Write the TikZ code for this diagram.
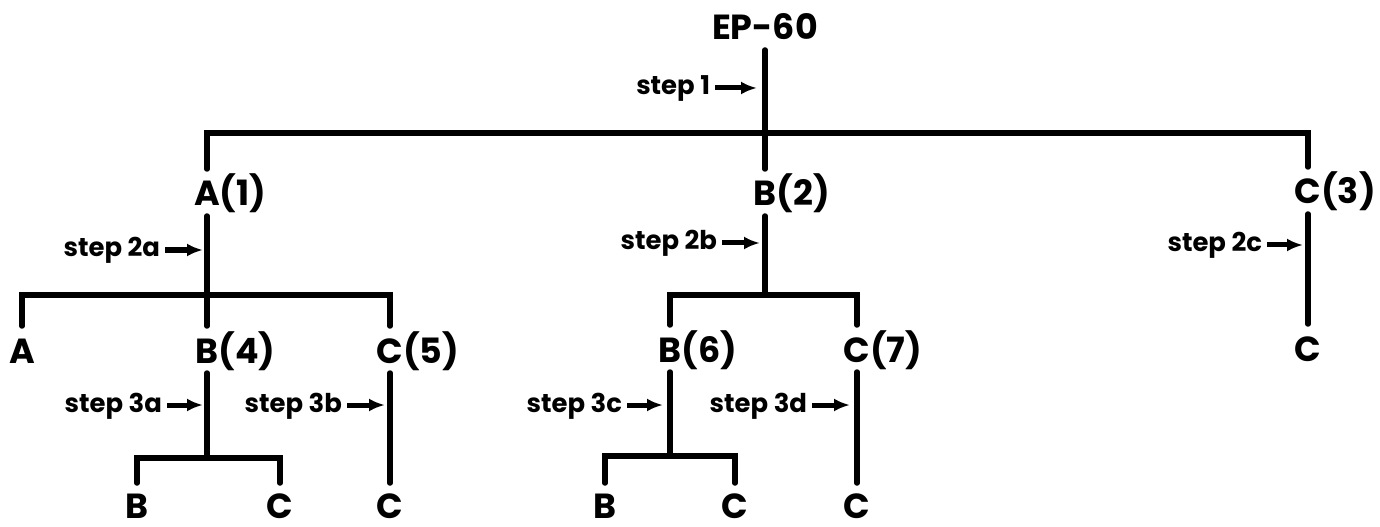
\documentclass[tikz,border=0pt]{standalone}
\usepackage{fontspec}
\setmainfont{Poppins}
\usetikzlibrary{arrows.meta}
\begin{document}
\begin{tikzpicture}[x=1bp,y=-1bp,
  tree/.style={line width=5.5bp, line cap=round, line join=miter},
  lbl/.style={font=\fontsize{35}{35}\selectfont\bfseries, inner sep=0pt, outer ysep=10bp,
              text height=27bp, text depth=0pt, anchor=base},
  leaf/.style={lbl, outer ysep=0pt, text height=35bp},
  steplbl/.style={font=\fontsize{26}{26}\selectfont\bfseries, inner sep=0pt, outer xsep=5bp,
                  text height=20bp, text depth=6bp, anchor=east},
  steparrow/.style={line width=5bp, -{Latex[length=16bp,width=13bp]}}]
\useasboundingbox (0,0) rectangle (1380,527);

% root
\node[lbl] (ep) at (765,40) {EP-60};

% first level
\node[lbl] (A1) at (207,206) {A\rlap{(1)}};
\node[lbl] (B2) at (765,206) {B\rlap{(2)}};
\node[lbl] (C3) at (1308,204) {C\rlap{(3)}};

% second level
\node[lbl] (A)  at (22,363)   {A};
\node[lbl] (B4) at (207,363)  {B\rlap{(4)}};
\node[lbl] (C5) at (390,363)  {C\rlap{(5)}};
\node[lbl] (B6) at (670,362)  {B\rlap{(6)}};
\node[lbl] (C7) at (857,362)  {C\rlap{(7)}};
\node[lbl] (Cc) at (1308,361) {C};

% leaves
\node[leaf] (B4b) at (137,518) {B};
\node[leaf] (B4c) at (280,518) {C};
\node[leaf] (C5c) at (390,518) {C};
\node[leaf] (B6b) at (605,518) {B};
\node[leaf] (B6c) at (735,518) {C};
\node[leaf] (C7c) at (857,518) {C};

% junctions
\coordinate (j1) at (765,133);
\coordinate (j2) at (207,295);
\coordinate (j3) at (765,295);
\coordinate (j4) at (207,458);
\coordinate (j5) at (670,456);

% tree lines
\draw[tree] (ep) -- (j1) -- (B2);
\draw[tree] (A1.north) |- (j1) -| (C3.north);
\draw[tree] (A1) -- (j2) -- (B4);
\draw[tree] (A.north) |- (j2) -| (C5.north);
\draw[tree] (B2) -- (j3);
\draw[tree] (B6.north) |- (j3) -| (C7.north);
\draw[tree] (C3) -- (Cc);
\draw[tree] (B4) -- (j4);
\draw[tree] (B4b.north) |- (j4) -| (B4c.north);
\draw[tree] (C5) -- (C5c);
\draw[tree] (B6) -- (j5);
\draw[tree] (B6b.north) |- (j5) -| (B6c.north);
\draw[tree] (C7) -- (C7c);

% step markers
\node[steplbl] (s1)  at (715,88)   {step 1};
\coordinate (t1)  at (757,88);
\node[steplbl] (s2a) at (165,250)  {step 2a};
\coordinate (t2a) at (203,250);
\node[steplbl] (s2b) at (722,243)  {step 2b};
\coordinate (t2b) at (760,243);
\node[steplbl] (s2c) at (1267,245) {step 2c};
\coordinate (t2c) at (1303,245);
\node[steplbl] (s3a) at (167,405)  {step 3a};
\coordinate (t3a) at (203,405);
\node[steplbl] (s3b) at (347,405)  {step 3b};
\coordinate (t3b) at (385,405);
\node[steplbl] (s3c) at (627,405)  {step 3c};
\coordinate (t3c) at (663,405);
\node[steplbl] (s3d) at (812,405)  {step 3d};
\coordinate (t3d) at (850,405);

\foreach \s in {1,2a,2b,2c,3a,3b,3c,3d}
  \draw[steparrow] (s\s) -- (t\s);
\end{tikzpicture}
\end{document}
